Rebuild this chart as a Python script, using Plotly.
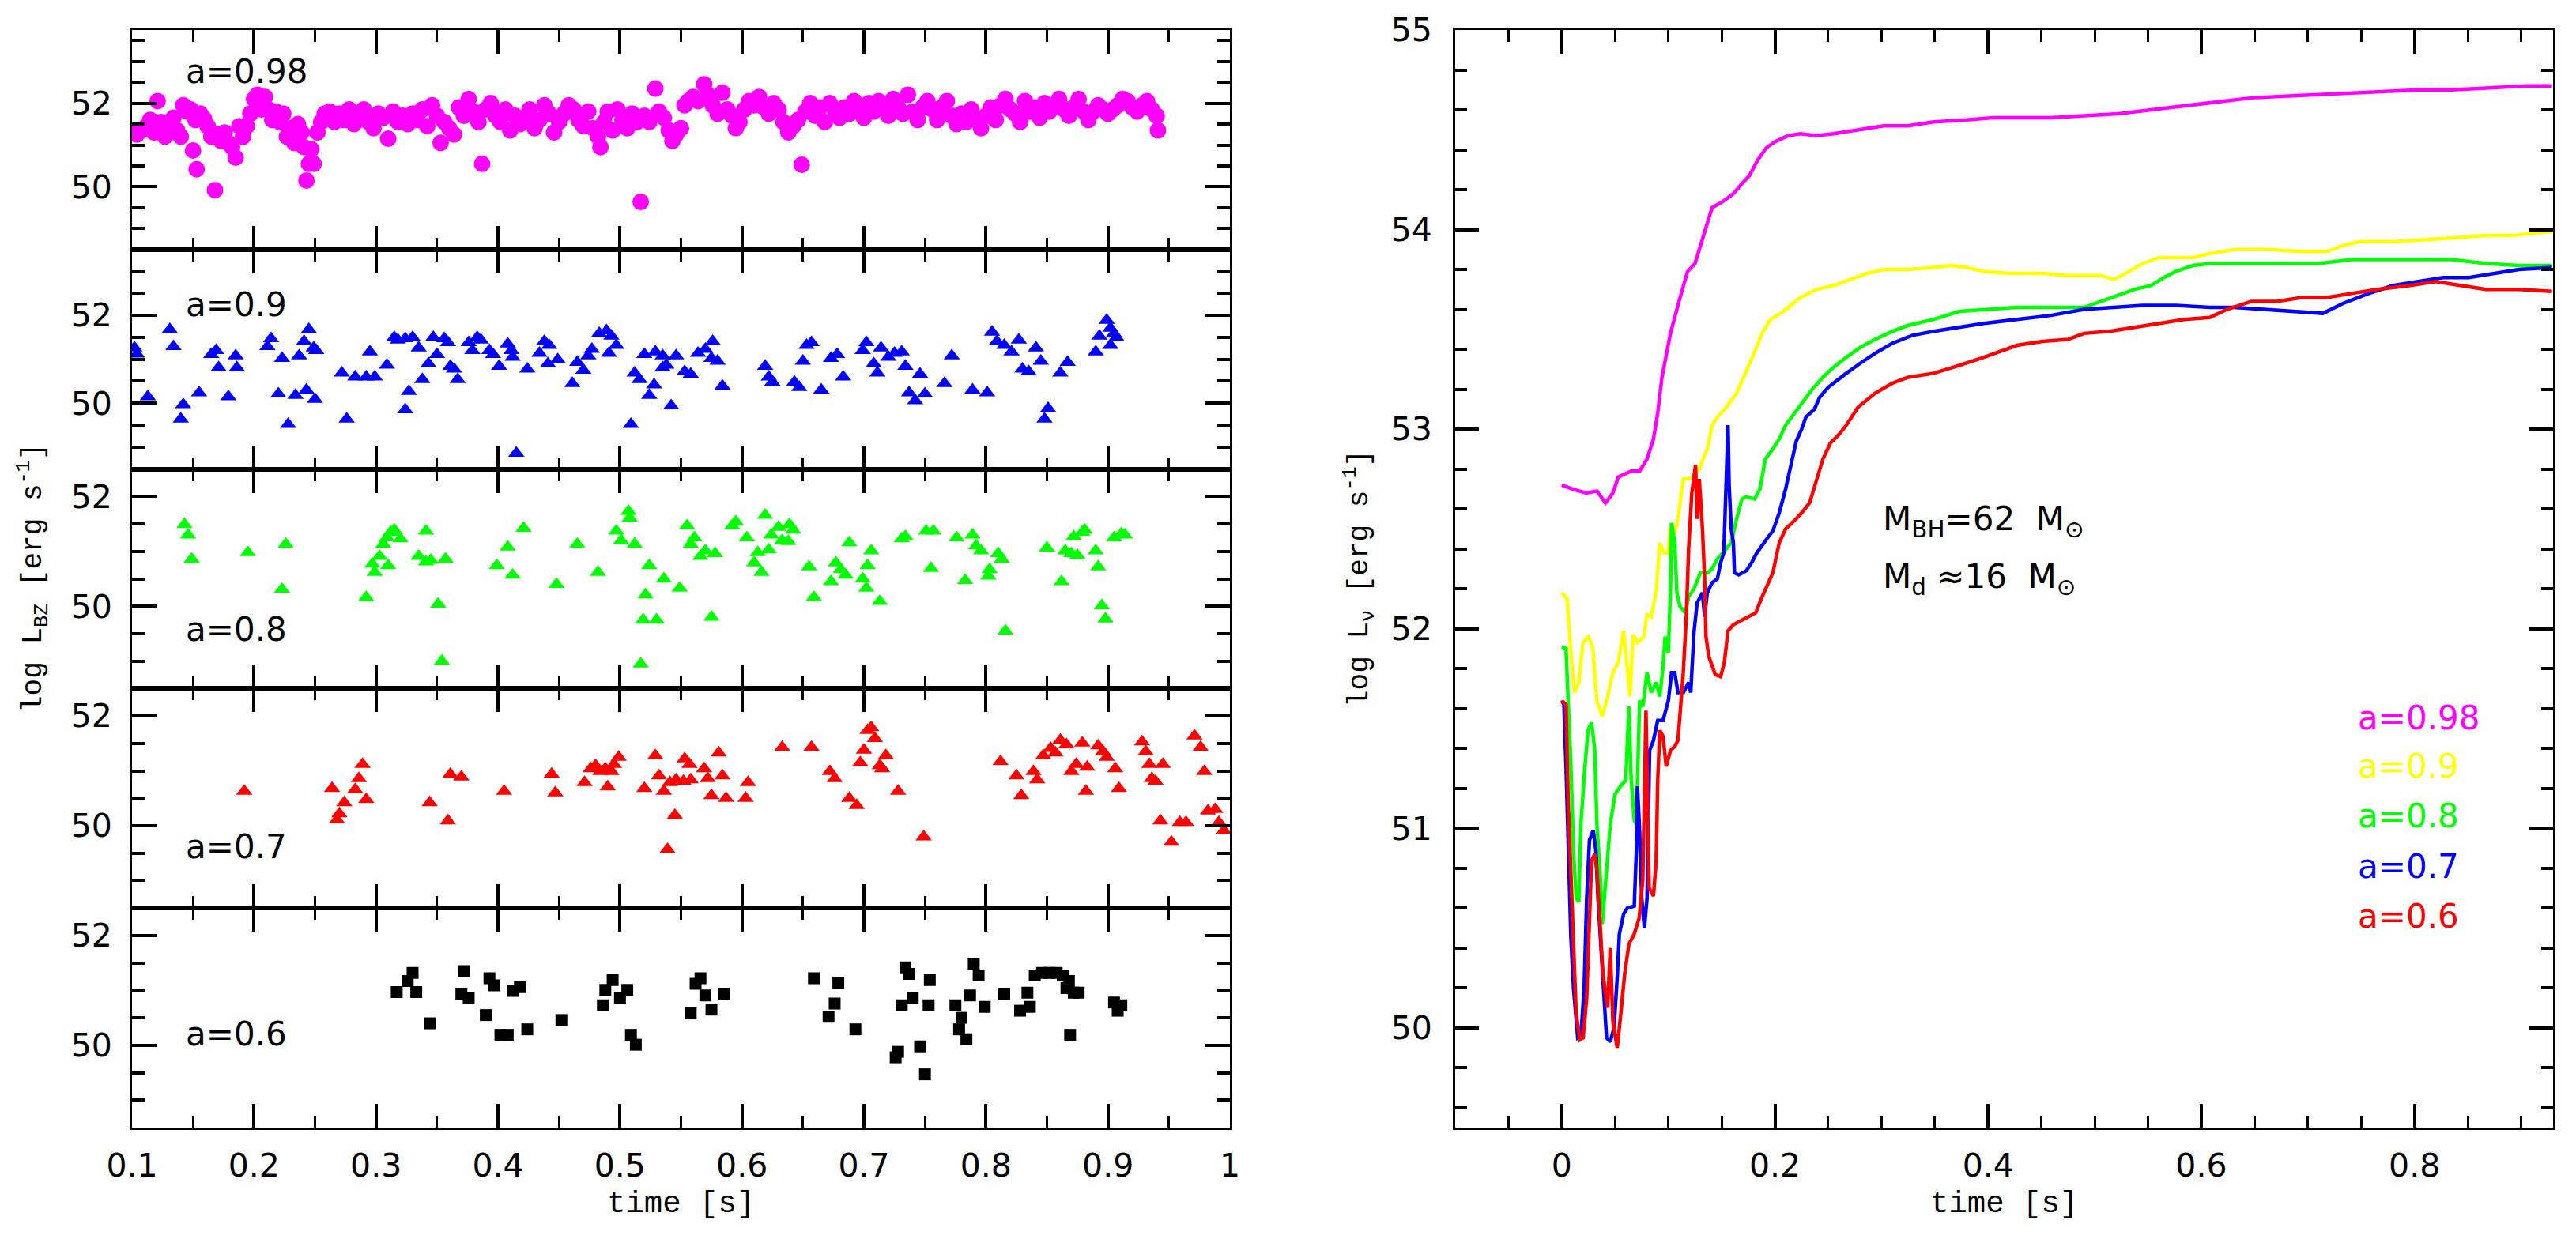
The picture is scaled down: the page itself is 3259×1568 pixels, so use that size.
import plotly.graph_objects as go

# ---------------- data: left panels, log L_BZ vs time ----------------
mag_pts = [(0.100,51.30),(0.104,51.25),(0.108,51.35),(0.112,51.45),(0.115,51.60),(0.118,51.30),(0.121,52.05),(0.124,51.55),(0.127,51.20),(0.130,51.45),(0.134,51.65),(0.137,51.35),(0.140,51.20),(0.142,51.95),(0.145,51.80),
(0.148,51.85),(0.150,50.87),(0.152,51.60),(0.153,50.42),(0.156,51.75),(0.159,51.63),(0.162,51.45),(0.165,51.20),(0.168,49.92),(0.170,51.25),(0.173,51.10),(0.176,51.30),(0.179,51.05),(0.182,50.95),(0.185,50.70),(0.188,51.45),(0.191,51.20),(0.194,51.45),(0.197,51.75),(0.200,52.10),(0.203,52.20),(0.206,51.85),(0.209,52.15),(0.212,51.85),
(0.215,51.60),(0.218,51.80),(0.221,51.55),(0.224,51.75),(0.227,51.20),(0.230,51.40),(0.233,51.05),(0.236,51.50),(0.239,51.30),(0.241,50.95),(0.243,50.15),(0.245,50.55),(0.247,50.90),(0.249,50.55),(0.252,51.30),(0.255,51.55),(0.258,51.75),
(0.262,51.80),(0.266,51.55),(0.270,51.75),(0.274,51.60),(0.278,51.85),(0.282,51.50),(0.286,51.70),(0.290,51.85),(0.294,51.55),(0.298,51.40),(0.302,51.75),(0.306,51.65),(0.310,51.15),(0.314,51.80),(0.318,51.55),(0.322,51.70),(0.326,51.50),(0.330,51.75),(0.334,51.60),(0.338,51.85),(0.342,51.45),(0.346,51.95),(0.350,51.70),(0.353,51.05),(0.356,51.55),
(0.360,51.40),(0.364,51.25),(0.368,51.90),(0.372,51.70),(0.376,52.10),(0.380,51.80),(0.384,51.55),(0.387,50.55),(0.390,51.85),(0.394,52.00),(0.398,51.70),(0.402,51.55),(0.406,51.85),(0.410,51.35),(0.414,51.70),(0.418,51.50),(0.422,51.65),(0.426,51.85),(0.430,51.40),(0.434,51.60),(0.438,51.95),(0.442,51.75),(0.446,51.30),(0.450,51.55),
(0.454,51.75),(0.458,51.95),(0.462,51.85),(0.466,51.60),(0.470,51.45),(0.474,51.80),(0.478,51.40),(0.482,51.20),(0.484,50.95),(0.487,51.55),(0.490,51.80),(0.494,51.35),(0.498,51.85),(0.502,51.60),(0.506,51.40),(0.510,51.75),(0.514,51.55),(0.517,49.64),(0.520,51.70),(0.524,51.55),(0.529,52.35),(0.532,51.80),(0.536,51.65),(0.540,51.35),(0.543,51.10),(0.546,51.25),(0.550,51.40),
(0.553,51.95),(0.556,52.05),(0.560,52.15),(0.564,52.05),(0.569,52.45),(0.572,52.20),(0.576,51.95),(0.580,51.75),(0.584,52.25),(0.588,51.85),(0.592,51.70),(0.595,51.40),(0.598,51.55),(0.602,51.85),(0.606,52.05),(0.610,51.95),(0.614,52.15),(0.618,51.90),(0.622,51.75),(0.626,52.00),(0.630,51.85),(0.634,51.55),(0.638,51.30),(0.642,51.45),(0.646,51.60),(0.649,50.53),
(0.652,51.80),(0.656,52.00),(0.660,51.70),(0.664,51.90),(0.668,51.55),(0.672,52.00),(0.676,51.85),(0.680,51.65),(0.684,51.90),(0.688,51.75),(0.692,52.05),(0.696,51.85),(0.700,51.65),(0.704,52.00),(0.708,51.80),(0.712,52.05),(0.716,51.85),(0.720,51.70),(0.724,52.10),(0.728,51.90),(0.732,51.75),(0.736,52.20),(0.740,51.80),(0.744,51.60),(0.748,51.90),
(0.752,52.05),(0.756,51.85),(0.760,51.60),(0.764,51.90),(0.768,52.05),(0.772,51.70),(0.776,51.50),(0.780,51.75),(0.784,51.55),(0.788,51.85),(0.792,51.65),(0.796,51.40),(0.800,51.70),(0.804,51.90),(0.808,51.60),(0.812,51.95),(0.816,52.10),(0.820,51.85),(0.824,51.75),(0.828,51.55),(0.832,52.05),(0.836,51.80),(0.840,51.90),(0.844,51.65),(0.848,52.00),
(0.852,51.80),(0.856,51.95),(0.860,52.10),(0.864,51.85),(0.868,51.70),(0.872,51.90),(0.876,52.10),(0.880,51.80),(0.884,51.60),(0.888,51.80),(0.892,51.95),(0.896,51.85),(0.900,51.75),(0.904,51.85),(0.908,51.95),(0.912,52.10),(0.916,52.05),(0.920,51.90),(0.924,51.80),(0.928,51.95),(0.932,52.05),(0.936,51.85),(0.940,51.70),(0.941,51.35)]

blu_pts = [(0.102,51.26),(0.104,51.12),(0.113,50.15),(0.131,51.68),(0.134,51.29),(0.142,49.97),(0.140,49.64),(0.155,50.24),(0.165,51.11),(0.169,51.20),(0.171,50.81),(0.179,50.15),(0.185,51.08),(0.186,50.81),
(0.211,51.29),(0.214,51.47),(0.220,50.21),(0.223,51.02),(0.228,49.52),(0.237,51.08),(0.234,50.18),(0.243,50.30),(0.245,51.68),(0.241,51.41),(0.249,51.26),(0.251,51.20),(0.250,50.09),
(0.272,50.69),(0.276,49.64),(0.283,50.60),(0.292,50.60),(0.299,50.60),(0.295,51.17),(0.309,50.87),(0.315,51.50),(0.318,51.44),(0.324,51.47),(0.330,51.50),(0.324,49.85),(0.327,50.27),(0.335,51.26),(0.338,50.54),(0.343,50.90),
(0.347,51.50),(0.350,51.11),(0.356,51.47),(0.359,51.38),(0.361,50.84),(0.364,50.78),(0.367,50.54),(0.376,51.38),(0.379,51.20),(0.383,51.50),(0.386,51.44),(0.393,51.20),(0.396,51.11),(0.401,50.84),
(0.408,51.35),(0.411,51.20),(0.412,51.05),(0.415,48.86),(0.424,50.78),(0.434,51.14),(0.438,51.41),(0.442,51.32),(0.441,50.90),(0.449,50.99),(0.461,50.45),(0.465,50.93),(0.470,50.75),(0.474,51.08),(0.477,51.23),
(0.483,51.59),(0.489,51.65),(0.493,51.53),(0.497,51.32),(0.491,51.14),(0.509,49.52),(0.512,50.69),(0.516,50.54),(0.520,51.11),(0.524,50.18),(0.528,50.42),(0.529,51.17),(0.535,51.08),(0.535,50.81),(0.538,50.87),
(0.542,49.94),(0.546,51.08),(0.553,50.72),(0.558,50.66),(0.564,51.14),(0.570,51.23),(0.576,51.41),(0.575,51.02),(0.580,50.96),(0.584,50.39),(0.619,50.84),(0.622,50.60),(0.625,50.48),(0.643,50.48),(0.647,50.36),
(0.650,50.96),(0.653,51.32),(0.657,51.38),(0.665,50.30),(0.673,51.02),(0.678,51.11),(0.683,50.60),(0.699,51.20),(0.702,51.38),(0.708,50.90),(0.711,50.69),(0.714,51.26),(0.720,51.05),(0.725,51.14),
(0.731,51.17),(0.734,50.84),(0.737,50.24),(0.742,50.06),(0.750,50.21),(0.746,50.66),(0.766,50.45),(0.772,51.08),(0.789,50.30),(0.801,50.24),(0.805,51.62),(0.809,51.41),(0.815,51.32),(0.821,51.17),(0.827,51.44),
(0.830,50.78),(0.835,50.72),(0.841,51.26),(0.845,50.96),(0.848,49.64),(0.851,49.88),(0.861,50.69),(0.867,50.93),(0.890,51.17),(0.893,51.53),(0.899,51.89),(0.902,51.71),(0.905,51.59),(0.907,51.50),(0.902,51.32)]

gre_pts = [(0.143,51.49),(0.146,51.30),(0.149,50.86),(0.195,50.98),(0.223,50.31),(0.226,51.13),(0.292,50.16),(0.297,50.77),(0.299,50.62),(0.303,50.91),(0.306,51.13),(0.309,51.25),(0.312,51.35),(0.315,51.39),(0.320,51.23),(0.310,50.74),
(0.341,51.37),(0.335,50.91),(0.341,50.81),(0.345,50.84),(0.351,50.04),(0.354,49.00),(0.357,50.86),(0.399,50.74),(0.408,51.08),(0.412,50.57),(0.421,51.42),(0.448,50.40),(0.465,51.13),(0.482,50.62),
(0.497,51.37),(0.501,51.20),(0.507,51.73),(0.508,51.61),(0.512,51.13),(0.517,48.95),(0.519,49.75),(0.530,49.75),(0.521,50.21),(0.524,50.74),(0.536,50.50),(0.549,50.33),(0.555,51.47),(0.558,51.13),(0.561,51.25),
(0.566,50.91),(0.570,51.01),(0.578,50.96),(0.575,49.80),(0.592,51.47),(0.595,51.54),(0.604,51.25),(0.610,50.79),(0.613,50.98),(0.616,50.62),(0.619,51.66),(0.624,51.30),(0.630,51.44),(0.633,51.20),(0.639,51.49),(0.642,51.39),(0.638,51.18),(0.622,51.03),
(0.655,50.72),(0.659,50.16),(0.673,50.45),(0.677,50.79),(0.681,50.67),(0.685,50.57),(0.688,51.16),(0.699,50.50),(0.702,50.33),(0.703,50.74),(0.706,51.01),(0.713,50.09),(0.731,51.23),(0.734,51.27),
(0.751,51.37),(0.757,51.37),(0.755,50.69),(0.776,51.25),(0.783,50.47),(0.789,51.30),(0.792,51.10),(0.796,51.01),(0.803,50.67),(0.802,50.55),(0.810,50.96),(0.813,50.86),(0.816,49.55),
(0.850,51.06),(0.865,51.01),(0.870,50.96),(0.875,50.93),(0.862,50.45),(0.872,51.27),(0.879,51.35),(0.881,51.39),(0.890,51.01),(0.892,50.72),(0.895,50.01),(0.898,49.77),(0.905,51.25),(0.911,51.32),(0.914,51.30)]

red_pts = [(0.192,50.63),(0.264,50.68),(0.268,50.11),(0.270,50.22),(0.274,50.42),(0.283,50.66),(0.286,50.86),(0.289,51.12),(0.292,50.48),(0.344,50.42),(0.359,50.09),(0.361,50.94),(0.370,50.89),(0.405,50.63),
(0.444,50.94),(0.447,50.60),(0.471,50.79),(0.476,51.04),(0.480,51.10),(0.484,50.99),(0.488,51.04),(0.493,50.99),(0.490,50.71),(0.495,51.12),(0.499,51.25),(0.520,50.68),(0.529,51.28),
(0.532,50.91),(0.536,50.63),(0.541,50.79),(0.546,50.84),(0.552,50.81),(0.558,50.84),(0.539,49.57),(0.545,50.19),(0.553,51.22),(0.557,51.12),(0.569,51.04),(0.572,50.86),(0.575,50.55),(0.587,50.50),(0.603,50.50),
(0.581,51.33),(0.584,50.91),(0.605,50.79),(0.633,51.43),(0.657,51.43),(0.672,50.99),(0.676,50.86),(0.688,50.50),(0.694,50.37),(0.697,51.15),(0.700,51.38),(0.703,51.74),(0.706,51.79),(0.709,51.59),
(0.713,51.10),(0.715,51.04),(0.718,51.28),(0.728,50.63),(0.749,49.80),(0.812,51.17),(0.825,50.91),(0.829,50.55),(0.839,50.99),(0.842,50.84),(0.847,51.28),(0.853,51.41),(0.857,51.33),(0.861,51.56),(0.866,51.48),
(0.870,50.99),(0.874,51.12),(0.879,51.51),(0.883,51.07),(0.882,50.63),(0.892,51.46),(0.896,51.35),(0.899,51.25),(0.906,51.04),(0.909,50.68),(0.928,51.53),(0.931,51.35),(0.934,51.12),(0.939,50.81),(0.936,50.86),
(0.945,51.12),(0.943,50.09),(0.952,49.70),(0.959,50.06),(0.964,50.06),(0.971,51.64),(0.976,51.43),(0.979,50.99),(0.982,50.27),(0.988,50.30),(0.991,50.06),(0.995,49.91)]

blk_pts = [(0.317,50.97),(0.326,51.17),(0.330,51.32),(0.333,50.97),(0.344,50.40),(0.372,51.35),(0.370,50.94),(0.376,50.86),(0.390,50.55),(0.393,51.22),(0.397,51.09),(0.402,50.19),(0.408,50.19),
(0.412,50.99),(0.418,51.06),(0.424,50.29),(0.452,50.46),(0.486,50.73),(0.488,51.01),(0.494,51.19),(0.500,50.86),(0.506,51.01),(0.509,50.19),(0.513,50.01),
(0.558,50.58),(0.562,51.12),(0.566,51.22),(0.570,50.91),(0.575,50.65),(0.585,50.94),(0.659,51.22),(0.679,51.14),(0.676,50.76),(0.671,50.52),(0.693,50.29),
(0.728,49.88),(0.726,49.78),(0.734,51.42),(0.737,51.30),(0.731,50.73),(0.740,50.86),(0.746,49.98),(0.750,49.47),(0.754,51.19),(0.753,50.73),
(0.775,50.73),(0.780,50.50),(0.778,50.29),(0.784,50.11),(0.787,50.91),(0.790,51.48),(0.794,51.27),(0.799,50.70),(0.815,50.94),(0.828,50.63),(0.836,50.70),(0.834,50.96),
(0.840,51.27),(0.846,51.32),(0.852,51.32),(0.858,51.32),(0.863,51.27),(0.868,51.17),(0.866,51.04),(0.872,50.96),(0.876,50.96),(0.869,50.19),(0.905,50.78),(0.911,50.73),(0.908,50.63)]

# ---------------- data: right panel, log L_nu vs time ----------------
mag_curve = [(0.000,52.72),(0.010,52.70),(0.023,52.68),(0.033,52.69),(0.041,52.63),(0.048,52.68),(0.053,52.76),(0.065,52.79),(0.073,52.79),(0.080,52.85),(0.086,52.95),(0.090,53.08),(0.094,53.26),(0.102,53.48),(0.110,53.64),(0.118,53.79),(0.125,53.83),(0.133,53.97),(0.141,54.11),(0.151,54.14),(0.161,54.18),(0.169,54.23),(0.176,54.27),(0.184,54.35),(0.192,54.41),(0.200,54.44),(0.212,54.47),(0.224,54.48),(0.239,54.47),(0.255,54.48),(0.278,54.50),(0.302,54.52),(0.325,54.52),(0.349,54.54),(0.380,54.55),(0.404,54.56),(0.427,54.56),(0.459,54.56),(0.490,54.57),(0.522,54.58),(0.553,54.60),(0.584,54.62),(0.616,54.64),(0.647,54.66),(0.686,54.67),(0.725,54.68),(0.765,54.69),(0.804,54.70),(0.835,54.70),(0.875,54.71),(0.906,54.72),(0.929,54.72)]

yel_curve = [(0.000,52.18),(0.005,52.15),(0.0086,51.88),(0.012,51.68),(0.016,51.73),(0.020,51.93),(0.025,51.96),(0.029,51.91),(0.033,51.64),(0.038,51.56),(0.043,51.66),(0.048,51.78),(0.053,51.83),(0.058,51.99),(0.061,51.83),(0.064,51.66),(0.067,51.97),(0.071,51.93),(0.077,51.96),(0.080,52.07),(0.084,52.06),(0.0886,52.19),(0.092,52.43),(0.096,52.38),(0.100,52.38),(0.102,52.51),(0.106,52.48),(0.109,52.55),(0.114,52.75),(0.118,52.75),(0.123,52.76),(0.129,52.80),(0.137,52.91),(0.141,53.02),(0.146,53.06),(0.156,53.12),(0.164,53.18),(0.171,53.26),(0.178,53.35),(0.188,53.48),(0.196,53.55),(0.208,53.59),(0.224,53.66),(0.239,53.70),(0.255,53.72),(0.271,53.75),(0.286,53.78),(0.302,53.80),(0.325,53.80),(0.349,53.81),(0.365,53.82),(0.380,53.81),(0.396,53.79),(0.420,53.78),(0.451,53.78),(0.475,53.77),(0.506,53.77),(0.518,53.75),(0.529,53.78),(0.545,53.83),(0.561,53.86),(0.576,53.86),(0.592,53.86),(0.608,53.88),(0.631,53.90),(0.663,53.90),(0.694,53.89),(0.718,53.89),(0.733,53.92),(0.749,53.94),(0.780,53.94),(0.812,53.95),(0.835,53.96),(0.867,53.97),(0.890,53.97),(0.914,53.98),(0.929,53.99)]

gre_curve = [(0.000,51.91),(0.004,51.90),(0.006,51.64),(0.0086,51.31),(0.011,50.89),(0.0135,50.65),(0.016,50.63),(0.018,51.02),(0.021,51.26),(0.0246,51.49),(0.028,51.53),(0.031,51.39),(0.033,51.02),(0.036,50.77),(0.038,50.52),(0.042,50.77),(0.0455,51.02),(0.050,51.17),(0.055,51.21),(0.060,51.24),(0.063,51.61),(0.065,51.26),(0.068,51.04),(0.070,51.02),(0.073,51.64),(0.076,51.61),(0.080,51.78),(0.084,51.68),(0.0886,51.73),(0.092,51.66),(0.095,51.81),(0.097,51.96),(0.100,51.88),(0.102,52.20),(0.103,52.53),(0.106,52.43),(0.108,52.18),(0.111,52.11),(0.116,52.08),(0.119,52.16),(0.124,52.20),(0.130,52.28),(0.137,52.28),(0.141,52.30),(0.146,52.35),(0.151,52.38),(0.159,52.43),(0.164,52.55),(0.169,52.65),(0.173,52.66),(0.181,52.65),(0.186,52.70),(0.191,52.85),(0.198,52.90),(0.204,52.95),(0.210,53.02),(0.218,53.08),(0.228,53.15),(0.235,53.20),(0.245,53.26),(0.255,53.31),(0.267,53.36),(0.280,53.41),(0.294,53.45),(0.310,53.49),(0.325,53.52),(0.349,53.55),(0.373,53.59),(0.396,53.60),(0.427,53.61),(0.459,53.61),(0.490,53.61),(0.506,53.64),(0.522,53.67),(0.537,53.70),(0.553,53.72),(0.565,53.76),(0.576,53.79),(0.592,53.82),(0.608,53.83),(0.639,53.83),(0.671,53.83),(0.710,53.83),(0.741,53.85),(0.773,53.85),(0.804,53.85),(0.835,53.85),(0.867,53.83),(0.898,53.82),(0.929,53.82)]

blu_curve = [(0.000,51.64),(0.002,51.62),(0.004,51.31),(0.006,50.89),(0.0086,50.45),(0.011,50.20),(0.015,49.95),(0.018,49.96),(0.021,50.20),(0.0234,50.65),(0.026,50.94),(0.0295,50.99),(0.032,50.89),(0.034,50.65),(0.037,50.40),(0.039,50.20),(0.042,49.95),(0.0455,49.93),(0.049,50.00),(0.052,50.25),(0.054,50.47),(0.058,50.57),(0.0615,50.60),(0.068,50.61),(0.070,50.89),(0.071,51.21),(0.073,50.99),(0.075,50.65),(0.0775,50.50),(0.080,50.65),(0.0824,51.39),(0.086,51.44),(0.090,51.54),(0.095,51.54),(0.098,51.60),(0.100,51.64),(0.103,51.78),(0.106,51.78),(0.109,51.68),(0.114,51.68),(0.119,51.73),(0.121,51.68),(0.124,51.98),(0.127,52.13),(0.132,52.18),(0.134,52.06),(0.1365,52.18),(0.141,52.23),(0.146,52.25),(0.149,52.33),(0.152,52.38),(0.154,52.70),(0.156,53.02),(0.157,52.72),(0.159,52.50),(0.161,52.43),(0.162,52.28),(0.166,52.27),(0.173,52.29),(0.178,52.33),(0.183,52.38),(0.191,52.44),(0.198,52.49),(0.204,52.58),(0.210,52.70),(0.215,52.82),(0.220,52.94),(0.225,53.00),(0.229,53.06),(0.237,53.10),(0.242,53.16),(0.250,53.21),(0.257,53.24),(0.267,53.28),(0.280,53.33),(0.294,53.38),(0.310,53.43),(0.329,53.47),(0.349,53.49),(0.373,53.51),(0.396,53.53),(0.427,53.55),(0.459,53.57),(0.490,53.60),(0.514,53.61),(0.545,53.62),(0.576,53.62),(0.608,53.61),(0.631,53.61),(0.663,53.60),(0.694,53.59),(0.714,53.58),(0.733,53.63),(0.757,53.68),(0.780,53.72),(0.804,53.74),(0.827,53.76),(0.851,53.76),(0.875,53.78),(0.898,53.80),(0.929,53.81)]

red_curve = [(0.000,51.64),(0.004,51.62),(0.006,51.14),(0.0086,50.77),(0.011,50.45),(0.0135,50.07),(0.017,49.94),(0.020,49.95),(0.0234,50.15),(0.026,50.52),(0.028,50.84),(0.031,50.87),(0.033,50.79),(0.036,50.52),(0.0386,50.27),(0.043,50.10),(0.0455,50.40),(0.048,50.03),(0.052,49.90),(0.055,50.05),(0.059,50.27),(0.063,50.42),(0.068,50.47),(0.0726,50.55),(0.076,50.74),(0.079,51.59),(0.080,51.21),(0.082,50.70),(0.086,50.66),(0.0886,50.84),(0.090,51.24),(0.092,51.49),(0.095,51.46),(0.098,51.31),(0.102,51.39),(0.106,51.41),(0.109,51.44),(0.112,51.64),(0.114,51.78),(0.117,52.08),(0.119,52.40),(0.122,52.68),(0.1255,52.82),(0.127,52.55),(0.129,52.75),(0.132,52.50),(0.134,52.25),(0.1353,51.96),(0.138,51.86),(0.144,51.77),(0.149,51.76),(0.1525,51.83),(0.156,51.99),(0.161,52.02),(0.1685,52.04),(0.176,52.06),(0.182,52.08),(0.188,52.16),(0.193,52.22),(0.198,52.28),(0.204,52.43),(0.210,52.50),(0.218,52.54),(0.225,52.58),(0.2325,52.63),(0.239,52.75),(0.245,52.85),(0.252,52.93),(0.2595,52.97),(0.267,53.02),(0.278,53.11),(0.294,53.18),(0.310,53.23),(0.325,53.26),(0.349,53.28),(0.373,53.32),(0.396,53.36),(0.427,53.42),(0.451,53.44),(0.475,53.45),(0.490,53.48),(0.514,53.49),(0.537,53.51),(0.561,53.53),(0.584,53.55),(0.608,53.56),(0.624,53.60),(0.647,53.64),(0.671,53.64),(0.694,53.66),(0.718,53.66),(0.741,53.68),(0.765,53.70),(0.796,53.72),(0.820,53.74),(0.843,53.72),(0.867,53.70),(0.898,53.70),(0.929,53.69)]

spin_labels = ["a=0.98", "a=0.9", "a=0.8", "a=0.7", "a=0.6"]
left_yranges = [[48.5, 53.75], [48.5, 53.5], [48.5, 52.5], [48.5, 52.5], [48.5, 52.5]]
left_label_y = [52.75, 52.25, 49.58, 49.62, 50.20]
right_label_y = [51.555, 51.313, 51.063, 50.81, 50.56]

# ---------------- figure ----------------
W, H = 3259, 1568
def fx(p): return p / W
def fy(p): return 1 - p / H

LX0, LX1 = 167, 1556
RX0, RX1 = 1841, 3230
TOP, BOT = 38, 1427
bounds = [TOP + i * (BOT - TOP) / 5 for i in range(6)]

TICKFONT = dict(family="DejaVu Sans", size=41, color="black")
TITLEFONT = dict(family="Liberation Mono, DejaVu Sans Mono, monospace", size=39, color="black")
YTITLEFONT = dict(family="Liberation Mono, DejaVu Sans Mono, monospace", size=36, color="black")
LABFONT = "DejaVu Sans"

colors = ["#ff00ff", "#0000ff", "#00ff00", "#ff0000", "#000000"]
symbols = ["circle", "triangle-up", "triangle-up", "triangle-up", "square"]
sizes = [21, 18, 18, 18, 15]
series = [mag_pts, blu_pts, gre_pts, red_pts, blk_pts]

fig = go.Figure()
layout = dict(width=W, height=H, margin=dict(l=0, r=0, t=0, b=0, autoexpand=False),
              paper_bgcolor="white", plot_bgcolor="white", showlegend=False)

def axcommon():
    return dict(showline=True, linecolor="black", linewidth=3, mirror="allticks",
                ticks="inside", tickcolor="black", showgrid=False, zeroline=False,
                tickfont=TICKFONT, automargin=False)

annotations = []
for i in range(5):
    n = i + 1
    xa = "xaxis" if n == 1 else f"xaxis{n}"
    ya = "yaxis" if n == 1 else f"yaxis{n}"
    xr = "x" if n == 1 else f"x{n}"
    yr = "y" if n == 1 else f"y{n}"
    pts = series[i]
    fig.add_trace(go.Scatter(x=[p[0] for p in pts], y=[p[1] for p in pts], mode="markers",
                             marker=dict(symbol=symbols[i], size=sizes[i], color=colors[i], line=dict(width=0)),
                             xaxis=xr, yaxis=yr))
    xd = axcommon()
    xd.update(domain=[fx(LX0), fx(LX1)], range=[0.1, 1.0], anchor=yr, tick0=0, dtick=0.1,
              ticklen=30, tickwidth=4, showticklabels=(n == 5), ticklabelstandoff=10,
              minor=dict(ticks="inside", tick0=0, dtick=0.05, ticklen=15, tickwidth=3, tickcolor="black", showgrid=False))
    yd = axcommon()
    yd.update(domain=[fy(bounds[n]), fy(bounds[n - 1])], range=left_yranges[i], anchor=xr,
              tick0=0, dtick=2, ticklen=32, tickwidth=4, ticklabelstandoff=14,
              minor=dict(ticks="inside", tick0=0, dtick=0.5, ticklen=16, tickwidth=4, tickcolor="black", showgrid=False))
    layout[xa] = xd
    layout[ya] = yd
    annotations.append(dict(x=0.143, y=left_label_y[i], xref=xr, yref=yr, text=spin_labels[i],
                            showarrow=False, xanchor="left", yanchor="middle",
                            font=dict(family=LABFONT, size=42, color="black")))

# right panel
curves = [mag_curve, yel_curve, gre_curve, blu_curve, red_curve]
ccolors = ["#ff00ff", "#ffff00", "#00ff00", "#0000ff", "#ff0000"]
for c, col in zip(curves, ccolors):
    fig.add_trace(go.Scatter(x=[p[0] for p in c], y=[p[1] for p in c], mode="lines",
                             line=dict(color=col, width=4.5), xaxis="x6", yaxis="y6"))
xd = axcommon()
xd.update(domain=[fx(RX0), fx(RX1)], range=[-0.1, 0.93], anchor="y6", tick0=0, dtick=0.2,
          ticklen=30, tickwidth=4, ticklabelstandoff=10,
          minor=dict(ticks="inside", tick0=0, dtick=0.05, ticklen=15, tickwidth=3, tickcolor="black", showgrid=False))
yd = axcommon()
yd.update(domain=[fy(BOT), fy(TOP)], range=[49.5, 55], anchor="x6", tick0=0, dtick=1,
          ticklen=30, tickwidth=4, ticklabelstandoff=18,
          minor=dict(ticks="inside", tick0=0, dtick=0.2, ticklen=15, tickwidth=4, tickcolor="black", showgrid=False))
layout["xaxis6"] = xd
layout["yaxis6"] = yd

rlab_colors = ["#ff00ff", "#ffff00", "#00ff00", "#0000ff", "#ff0000"]
right_labels = ["a=0.98", "a=0.9", "a=0.8", "a=0.7", "a=0.6"]
for t, yv, col in zip(right_labels, right_label_y, rlab_colors):
    annotations.append(dict(x=0.745, y=yv, xref="x6", yref="y6", text=t, showarrow=False,
                            xanchor="left", yanchor="middle", font=dict(family=LABFONT, size=42, color=col)))

annotations.append(dict(x=0.30, y=52.54, xref="x6", yref="y6",
                        text="M<sub>BH</sub>=62&nbsp;&nbsp;M<sub>⊙</sub>", showarrow=False,
                        xanchor="left", yanchor="middle", font=dict(family=LABFONT, size=42, color="black")))
annotations.append(dict(x=0.30, y=52.25, xref="x6", yref="y6",
                        text="M<sub>d</sub>&nbsp;≈16&nbsp;&nbsp;M<sub>⊙</sub>", showarrow=False,
                        xanchor="left", yanchor="middle", font=dict(family=LABFONT, size=42, color="black")))

# axis titles
annotations.append(dict(x=fx((LX0 + LX1) / 2), y=fy(1524), xref="paper", yref="paper", text="time [s]",
                        showarrow=False, xanchor="center", yanchor="middle", font=TITLEFONT))
annotations.append(dict(x=fx((RX0 + RX1) / 2), y=fy(1524), xref="paper", yref="paper", text="time [s]",
                        showarrow=False, xanchor="center", yanchor="middle", font=TITLEFONT))
annotations.append(dict(x=fx(42), y=fy(732), xref="paper", yref="paper",
                        text="log L<sub>BZ</sub> [erg s<sup>-1</sup>]", textangle=-90,
                        showarrow=False, xanchor="center", yanchor="middle", font=YTITLEFONT))
annotations.append(dict(x=fx(1720), y=fy(732), xref="paper", yref="paper",
                        text="log L<sub>ν</sub> [erg s<sup>-1</sup>]", textangle=-90,
                        showarrow=False, xanchor="center", yanchor="middle", font=YTITLEFONT))

layout["annotations"] = annotations
fig.update_layout(**layout)
fig.write_html("out.html", config={"displayModeBar": False},
               post_script="document.body.style.margin='0';document.body.style.overflow='hidden';")
